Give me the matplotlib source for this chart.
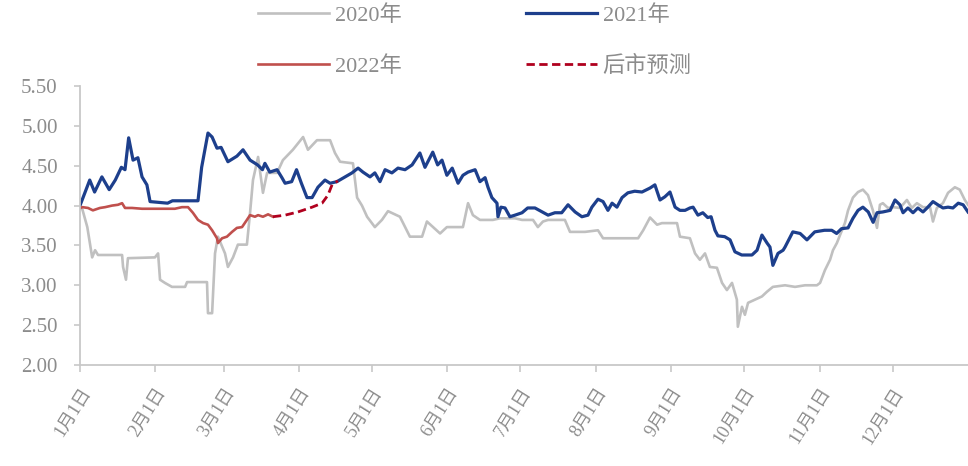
import matplotlib
matplotlib.use("Agg")
import matplotlib.pyplot as plt
from matplotlib.font_manager import FontProperties

# day of year (0 = Jan 1) and price for each series
days_2020 = [0, 1, 3, 5, 6.2, 7.4, 17.3, 17.7, 18.9, 19.7, 30.8, 32.1, 32.9, 34.9, 37.8, 43.2, 44,
             52.2, 52.6, 54.3, 55.5, 56.7, 59.6, 60.8, 62.9, 64.9, 68.6, 69.9, 71.1, 73.2, 75.2,
             76.9, 81, 83.4, 87.5, 91.7, 93.7, 97.4, 102.8, 104.8, 106.9, 112.2, 113.9, 115.9,
             118, 121.2, 124.1, 126.6, 131.5, 135.6, 140.6, 142.6, 145.1, 148, 150.8, 157.4,
             159.5, 161.5, 164.4, 169.7, 172.6, 178.8, 181.7, 186.2, 188.2, 190.3, 192.4, 199.3,
             201.4, 207.6, 212.9, 215, 229.4, 231.5, 234.3, 237.2, 239.2, 245.4, 246.6, 250.7,
             252.8, 254.8, 256.9, 258.9, 261.8, 263.9, 265.9, 268, 270, 270.4, 272.1, 273.3,
             274.6, 277.4, 280.3, 282.4, 284.8, 289.8, 293.9, 298, 302.9, 304.2, 306.2, 308.3,
             309.5, 311.1, 312.4, 314.4, 315.7, 317.7, 319.8, 321.8, 323.9, 325.9, 327.6, 328.8,
             330, 332.1, 334.2, 337, 339.9, 341.9, 344, 346.5, 349.4, 350.6, 352.2, 354.7, 356.8,
             359.6, 361.6, 363.7, 365]
price_2020 = [3.97, 3.95, 3.73, 3.35, 3.44, 3.38, 3.38, 3.23, 3.07, 3.34, 3.35, 3.40, 3.07, 3.03,
              2.98, 2.98, 3.04, 3.04, 2.65, 2.65, 3.40, 3.61, 3.40, 3.23, 3.35, 3.51, 3.51, 3.91,
              4.32, 4.61, 4.16, 4.41, 4.41, 4.57, 4.70, 4.86, 4.70, 4.82, 4.82, 4.66, 4.55, 4.53,
              4.10, 4.00, 3.86, 3.73, 3.82, 3.93, 3.86, 3.61, 3.61, 3.80, 3.73, 3.65, 3.73, 3.73,
              4.03, 3.88, 3.82, 3.82, 3.84, 3.84, 3.82, 3.82, 3.73, 3.80, 3.82, 3.82, 3.67, 3.67,
              3.69, 3.59, 3.59, 3.69, 3.85, 3.76, 3.78, 3.78, 3.61, 3.59, 3.40, 3.32, 3.40, 3.23,
              3.22, 3.03, 2.94, 3.03, 2.82, 2.48, 2.73, 2.63, 2.78, 2.82, 2.86, 2.92, 2.98, 3.00,
              2.98, 3.00, 3.00, 3.03, 3.19, 3.32, 3.44, 3.53, 3.63, 3.78, 3.94, 4.10, 4.17, 4.20,
              4.13, 3.94, 3.72, 4.01, 4.03, 3.97, 3.98, 3.97, 4.07, 3.97, 4.03, 3.98, 3.98, 3.80,
              3.97, 4.03, 4.16, 4.23, 4.20, 4.07, 4.01]

days_2021 = [0, 4, 6, 9, 12, 14.5, 17, 18.5, 20, 21.8, 23.8, 25.5, 27.5, 28.8, 36, 38, 48.5, 50,
             52.6, 54.3, 56.3, 58, 60.8, 64.5, 67, 69.9, 73, 75, 76, 78, 81, 83, 84.3, 87, 89, 91,
             93.3, 95.4, 97.8, 100.7, 102.8, 105.6, 109, 111.8, 114.3, 116.3, 119.2, 121.2, 123.3,
             125.4, 128.2, 130.7, 133.6, 136.5, 139.7, 141.8, 145, 147, 148.8, 150.8, 153, 155.4,
             157.4, 159.5, 162.4, 164.4, 166.5, 167.7, 169.3, 171.4, 171.8, 173, 174.7, 176.7,
             178.8, 181.7, 184, 187, 190, 192.4, 195.2, 198, 200.6, 203.5, 206.3, 208.8, 210.4,
             212.9, 215, 217, 218.7, 220.7, 222.8, 225.2, 228, 231, 233, 234.3, 236.3, 238.4,
             240.4, 242.5, 244.6, 246.6, 248.7, 250.7, 252, 254, 256, 258, 259.4, 261, 262.2, 265,
             267.2, 269.2, 272, 276.2, 278.3, 280.3, 282.4, 283.6, 284.8, 286.9, 289, 289.8, 293,
             296, 298.8, 302, 306, 309, 311, 313, 315.7, 317.7, 319.8, 321.8, 324, 326, 327.6, 330,
             333, 335, 337, 338.3, 340.3, 342.4, 344.4, 346.5, 348.5, 350.6, 352.6, 354.7, 356.8,
             358.8, 361, 363, 365]
price_2021 = [4.00, 4.32, 4.17, 4.36, 4.20, 4.32, 4.48, 4.45, 4.85, 4.57, 4.60, 4.36, 4.26, 4.05,
              4.03, 4.06, 4.06, 4.48, 4.91, 4.86, 4.72, 4.73, 4.55, 4.62, 4.70, 4.57, 4.51, 4.45,
              4.53, 4.42, 4.45, 4.35, 4.28, 4.30, 4.45, 4.28, 4.10, 4.10, 4.23, 4.32, 4.28, 4.30,
              4.36, 4.41, 4.47, 4.42, 4.36, 4.41, 4.30, 4.45, 4.41, 4.47, 4.45, 4.51, 4.66, 4.48,
              4.67, 4.51, 4.57, 4.38, 4.47, 4.28, 4.38, 4.42, 4.45, 4.30, 4.35, 4.23, 4.10, 4.03,
              3.86, 3.98, 3.97, 3.86, 3.88, 3.91, 3.97, 3.97, 3.92, 3.88, 3.91, 3.91, 4.01, 3.92,
              3.86, 3.88, 3.98, 4.08, 4.05, 3.94, 4.03, 3.98, 4.10, 4.16, 4.18, 4.17, 4.20, 4.22,
              4.26, 4.07, 4.11, 4.17, 3.98, 3.94, 3.94, 3.97, 3.98, 3.88, 3.91, 3.85, 3.86, 3.69,
              3.62, 3.61, 3.57, 3.42, 3.38, 3.38, 3.44, 3.63, 3.53, 3.48, 3.25, 3.40, 3.44, 3.48,
              3.67, 3.65, 3.57, 3.67, 3.69, 3.69, 3.65, 3.71, 3.72, 3.84, 3.94, 3.98, 3.92, 3.79,
              3.91, 3.92, 3.94, 4.07, 4.01, 3.91, 3.97, 3.91, 3.97, 3.92, 3.98, 4.05, 4.01, 3.97,
              3.98, 3.97, 4.03, 4.01, 3.92]

days_2022 = [0, 1, 3.3, 5.3, 8.2, 10.3, 13.2, 15.6, 17.3, 18.5, 21.4, 25.5, 39, 41.9, 44.4, 46.4,
             48.5, 50.6, 52.6, 54.3, 56.3, 56.7, 58.4, 60.4, 62.5, 64.5, 66.6, 68.6, 69.9, 71.9,
             73.2, 75.2, 77.3, 79.3]
price_2022 = [3.97, 3.98, 3.97, 3.94, 3.97, 3.98, 4.00, 4.01, 4.03, 3.97, 3.97, 3.96, 3.96, 3.98,
              3.98, 3.91, 3.82, 3.78, 3.76, 3.69, 3.59, 3.53, 3.59, 3.61, 3.67, 3.72, 3.73, 3.82,
              3.88, 3.86, 3.88, 3.86, 3.89, 3.86]

days_forecast = [79.3, 84.3, 89.6, 95.4, 99.5, 101.9, 103.6, 106]
price_forecast = [3.86, 3.88, 3.92, 3.98, 4.03, 4.13, 4.26, 4.31]

month_starts = [0, 31, 59, 90, 120, 151, 181, 212, 243, 273, 304, 334]
month_labels = [f"{m}月1日" for m in range(1, 13)]
y_ticks = [2.00, 2.50, 3.00, 3.50, 4.00, 4.50, 5.00, 5.50]

GRAY_TEXT = "#8c8c8c"
AXIS_GRAY = "#c8c8c8"
MIXED = ["Liberation Serif", "Noto Sans CJK SC"]

fig = plt.figure(figsize=(9.68, 4.66), dpi=100)
ax = fig.add_axes([80 / 968, 1 - 365 / 466, 888 / 968, 279 / 466])

l20, = ax.plot(days_2020, price_2020, color="#c0c0c0", lw=1.9, label="2020年")
l21, = ax.plot(days_2021, price_2021, color="#1d3f8c", lw=2.3, label="2021年")
l22, = ax.plot(days_2022, price_2022, color="#c0504d", lw=1.9, label="2022年")
lfc, = ax.plot(days_forecast, price_forecast, color="#b0001e", lw=2.0,
               ls=(0, (3, 1.6)), label="后市预测")

ax.set_xlim(0, 365)
ax.set_ylim(2.0, 5.5)
ax.set_yticks(y_ticks)
ax.set_yticklabels([f"{v:.2f}" for v in y_ticks], color=GRAY_TEXT,
                   fontfamily="Liberation Serif", fontsize=15)
ax.set_xticks(month_starts)
ax.set_xticklabels(month_labels, rotation=58, ha="right", va="top",
                   rotation_mode="anchor", color=GRAY_TEXT, fontsize=13,
                   fontfamily=MIXED)

for side in ("top", "right"):
    ax.spines[side].set_visible(False)
for side in ("left", "bottom"):
    ax.spines[side].set_color(AXIS_GRAY)
    ax.spines[side].set_linewidth(1.3)
ax.tick_params(axis="both", direction="out", color=AXIS_GRAY, width=1.2)
ax.tick_params(axis="y", length=4, pad=12)
ax.tick_params(axis="x", length=5, pad=9)

leg = fig.legend(handles=[l20, l22, l21, lfc], ncol=2, loc="upper left",
                 bbox_to_anchor=(258 / 968, 1 - 5 / 466), frameon=False,
                 prop=FontProperties(family=MIXED, size=16),
                 handlelength=3.2, handletextpad=0.25, columnspacing=5.6,
                 labelspacing=1.35, borderpad=0, borderaxespad=0)
for text in leg.get_texts():
    text.set_color(GRAY_TEXT)

fig.savefig("out.png", dpi=100)
